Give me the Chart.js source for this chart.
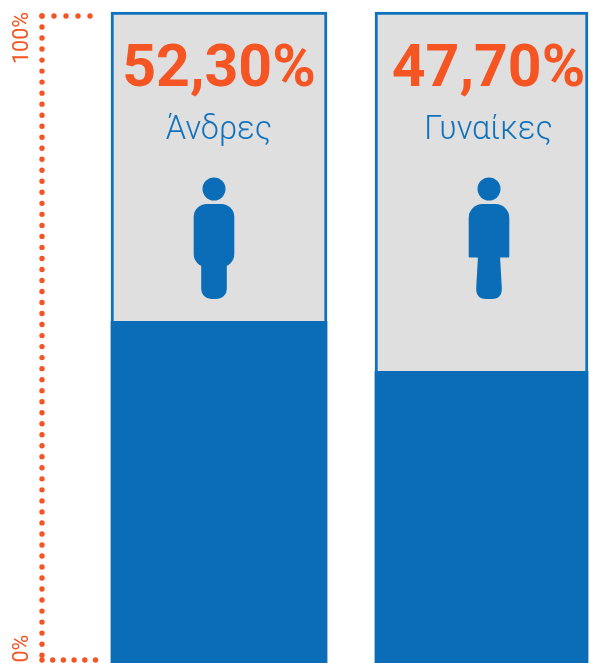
<!DOCTYPE html>
<html lang="el">
<head>
<meta charset="utf-8">
<title>Άνδρες / Γυναίκες</title>
<script src="https://cdn.jsdelivr.net/npm/chart.js@4"></script>
<style>
  html, body { margin: 0; padding: 0; background: #fff; overflow: hidden; }
  canvas { display: block; }
</style>
</head>
<body>
<canvas id="chart" width="590" height="663"></canvas>
<script>
// values
const categories = ["Άνδρες", "Γυναίκες"];
const shareLabels = ["52,30%", "47,70%"];
const fillHeights = [52.5, 44.8]; // height of the blue part, as drawn in the reference
const boxHeights = [100, 100];
const tickLabels = ["0%", "100%"];

const BLUE = "#0B6CB7";
const BORDER_BLUE = "#1072BC";
const GREY = "#DFDFDF";
const ORANGE = "#F55523";

// per-bar layout
const barWidths = [216, 213];
const textShift = [0, 7];
const iconShift = [-5, 7.5];
const iconDrawers = [drawMan, drawWoman];

function drawHead(ctx, cx) {
  ctx.beginPath();
  ctx.arc(cx, 189, 11.5, 0, Math.PI * 2);
  ctx.fill();
}

function drawMan(ctx, cx) {
  drawHead(ctx, cx);
  ctx.beginPath();
  ctx.roundRect(cx - 20.3, 204, 40.6, 63, 13);
  ctx.fill();
  ctx.beginPath();
  ctx.roundRect(cx - 12.8, 250, 25.6, 49, 10);
  ctx.fill();
}

function drawWoman(ctx, cx) {
  drawHead(ctx, cx);
  ctx.beginPath();
  ctx.roundRect(cx - 20.3, 204, 40.6, 53.5, [14, 14, 1, 1]);
  ctx.fill();
  ctx.beginPath();
  ctx.moveTo(cx - 11, 256);
  ctx.lineTo(cx + 11, 256);
  ctx.lineTo(cx + 12.8, 288);
  ctx.quadraticCurveTo(cx + 13, 299, cx + 3, 299);
  ctx.lineTo(cx - 3, 299);
  ctx.quadraticCurveTo(cx - 13, 299, cx - 12.8, 288);
  ctx.closePath();
  ctx.fill();
}

const boxDatasets = categories.map((name, i) => ({
  label: name,
  data: [{ x: i + 1, y: boxHeights[i] }],
  backgroundColor: GREY,
  borderColor: BORDER_BLUE,
  borderWidth: 3,
  barThickness: barWidths[i],
  grouped: false,
  order: 2,
}));

const fillDatasets = categories.map((name, i) => ({
  label: name,
  data: [{ x: i + 1, y: fillHeights[i] }],
  backgroundColor: BLUE,
  borderWidth: 0,
  barThickness: barWidths[i],
  grouped: false,
  order: 1,
}));

const annotationPlugin = {
  id: "annotations",
  afterDatasetsDraw: (chart) => {
    const { ctx, scales } = chart;
    const top = scales.y.getPixelForValue(100);
    const bottom = scales.y.getPixelForValue(0);

    // dotted bracket
    ctx.save();
    ctx.strokeStyle = ORANGE;
    ctx.lineCap = "round";
    ctx.lineWidth = 5.4;
    const dotted = (x1, y1, x2, y2, gap) => {
      ctx.setLineDash([0, gap]);
      ctx.beginPath();
      ctx.moveTo(x1, y1);
      ctx.lineTo(x2, y2);
      ctx.stroke();
    };
    dotted(42, top + 4, 42, bottom - 3, 11.02);
    dotted(42, top + 4, 92, top + 4, 12);
    dotted(42, bottom - 3, 98, bottom - 3, 10.7);
    ctx.restore();

    // rotated axis labels
    ctx.save();
    ctx.fillStyle = ORANGE;
    ctx.font = "400 21.5px Roboto";
    ctx.textBaseline = "alphabetic";
    ctx.translate(28, bottom);
    ctx.rotate(-Math.PI / 2);
    ctx.textAlign = "left";
    ctx.fillText(tickLabels[0], 0.5, 0);
    ctx.restore();
    ctx.save();
    ctx.fillStyle = ORANGE;
    ctx.font = "400 21.5px Roboto";
    ctx.translate(28, top);
    ctx.rotate(-Math.PI / 2);
    ctx.textAlign = "right";
    ctx.fillText(tickLabels[1], 0, 0);
    ctx.restore();

    // text and icon in each box
    categories.forEach((name, i) => {
      const cx = scales.x.getPixelForValue(i + 1);
      ctx.save();
      ctx.textAlign = "center";
      ctx.textBaseline = "alphabetic";
      ctx.fillStyle = ORANGE;
      ctx.font = "700 59px Roboto";
      ctx.fillText(shareLabels[i], cx + textShift[i], 86);
      ctx.fillStyle = BORDER_BLUE;
      ctx.font = "300 32.5px Roboto";
      ctx.fillText(name, cx + textShift[i], 139);
      ctx.fillStyle = BLUE;
      iconDrawers[i](ctx, cx + iconShift[i]);
      ctx.restore();
    });
  },
};

new Chart(document.getElementById("chart"), {
  type: "bar",
  data: { datasets: [...boxDatasets, ...fillDatasets] },
  options: {
    responsive: false,
    animation: false,
    layout: { padding: 0 },
    plugins: { legend: { display: false }, tooltip: { enabled: false } },
    scales: {
      x: { type: "linear", offset: false, display: false, min: 0.16571, max: 2.41333 },
      y: { display: false, min: 0, max: 101.843 },
    },
  },
  plugins: [annotationPlugin],
});
</script>
</body>
</html>
